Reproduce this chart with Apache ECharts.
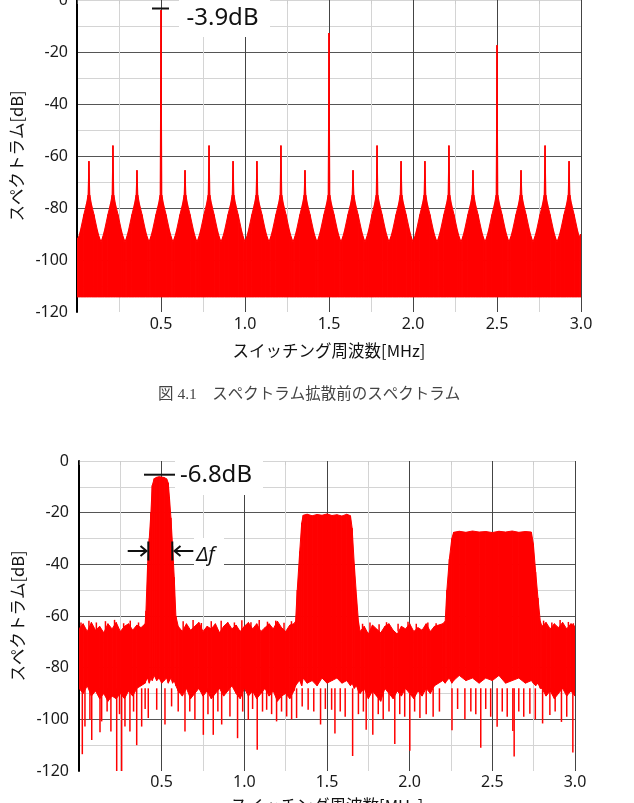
<!DOCTYPE html>
<html>
<head>
<meta charset="utf-8">
<script src="https://cdn.jsdelivr.net/npm/echarts@6.0.0/dist/echarts.min.js"></script>
<style>
html, body { margin: 0; padding: 0; background: #fff; }
#main { width: 634px; height: 803px; }
</style>
</head>
<body>
<div id="main"></div>
<script>
// ---- fig 4.1 : before spreading (line spectrum) ----
var peakFreq = [0.071, 0.214, 0.357, 0.5, 0.643, 0.786, 0.929, 1.071, 1.214, 1.357, 1.5,
                1.643, 1.786, 1.929, 2.071, 2.214, 2.357, 2.5, 2.643, 2.786, 2.929];
var peakDb = [-62, -56, -65.5, -3.9, -65.5, -56, -62, -62, -56, -65.5, -12.7,
              -65.5, -56, -62, -62, -56, -65.5, -17.4, -65.5, -56, -62];
// skirt of every line (MHz away from the line -> dB)
var cuspOffset = [0.06, 0.05, 0.03, 0.015, 0.005];
var cuspDb = [-91, -88.5, -82.5, -78.5, -75];
var valleyFreq = [0, 0.143, 0.286, 0.429, 0.571, 0.714, 0.857, 1.0, 1.143, 1.286, 1.429,
                  1.571, 1.714, 1.857, 2.0, 2.143, 2.286, 2.429, 2.571, 2.714, 2.857, 3.0];
var valleyDb = [-92, -93, -93, -93, -93, -93, -93, -93, -93, -93, -93,
                -93, -93, -93, -93, -93, -93, -93, -93, -93, -93, -90];
var topFloorDb = -114.2;

// ---- second chart : after spreading ----
var botFreq = [0, 0.025, 0.05, 0.075, 0.1, 0.125, 0.15, 0.175, 0.2, 0.225, 0.25, 0.275, 0.3, 0.325, 0.35, 0.375, 0.4,
    0.405, 0.415, 0.425, 0.435, 0.443, 0.455, 0.47, 0.485, 0.5, 0.515, 0.53, 0.54, 0.547, 0.556, 0.566, 0.576, 0.586,
    0.6, 0.625, 0.65, 0.675, 0.7, 0.725, 0.75, 0.775, 0.8, 0.825, 0.85, 0.875, 0.9, 0.925, 0.95, 0.975, 1.0,
    1.025, 1.05, 1.075, 1.1, 1.125, 1.15, 1.175, 1.2, 1.225, 1.25, 1.275, 1.3,
    1.31, 1.32, 1.335, 1.347, 1.356, 1.38, 1.41, 1.44, 1.47, 1.5, 1.53, 1.56, 1.59, 1.62, 1.642, 1.652, 1.665, 1.678, 1.69,
    1.7, 1.725, 1.75, 1.775, 1.8, 1.825, 1.85, 1.875, 1.9, 1.925, 1.95, 1.975, 2.0, 2.025, 2.05, 2.075, 2.1, 2.125, 2.15, 2.175, 2.2,
    2.215, 2.225, 2.24, 2.255, 2.266, 2.3, 2.34, 2.38, 2.42, 2.46, 2.5, 2.54, 2.58, 2.62, 2.66, 2.7, 2.736, 2.748, 2.762, 2.776, 2.79,
    2.8, 2.825, 2.85, 2.875, 2.9, 2.925, 2.95, 2.975, 3.0];
var botHigh = [-65, -63, -66, -62.5, -65.5, -64, -66.5, -63, -65, -62.5, -66, -64, -63, -65.5, -63.5, -64.5, -63,
    -58, -40, -30, -20, -9.5, -6.8, -6.3, -6.1, -6.2, -6.4, -6.9, -8.5, -14, -22, -33, -45, -60,
    -64, -66, -63, -65.5, -64, -62.5, -66, -64, -65, -63, -66.5, -64, -62.5, -65, -63.5, -66, -64,
    -62.5, -65, -63, -66, -64.5, -63, -65, -62, -64.5, -66, -63.5, -63,
    -62, -50, -35, -24, -21, -20.6, -21.2, -20.7, -21, -20.5, -21.1, -20.8, -21.3, -20.6, -21.2, -26, -40, -52, -62,
    -66, -64, -67, -63.5, -65, -66.5, -64, -63, -65.5, -67, -64, -65, -63, -66, -64.5, -65.5, -63, -66, -64, -63.5, -63,
    -62, -50, -38, -30, -27.6, -27.2, -27.6, -27.1, -27.5, -27.3, -27.7, -27.2, -27.5, -27.1, -27.6, -27.3, -27.5, -32, -43, -53, -62,
    -64, -62.5, -65, -63, -64.5, -62.5, -65, -63, -64];
var botLow = [-88, -90, -87, -91, -89, -92, -90, -93, -91, -92, -90, -92, -89, -91, -88, -87, -86,
    -85, -84, -86, -84, -85, -83, -85, -84, -86, -85, -84, -86, -85, -84, -86, -85, -87,
    -89, -91, -88, -92, -90, -88, -91, -89, -92, -90, -88, -91, -89, -87, -90, -92, -88,
    -91, -89, -92, -90, -88, -91, -89, -93, -91, -90, -92, -89,
    -87, -86, -85, -87, -84, -86, -85, -87, -84, -86, -85, -84, -86, -85, -87, -86, -88, -87, -89,
    -90, -88, -92, -89, -91, -93, -88, -90, -92, -89, -91, -88, -90, -92, -89, -91, -88, -90, -87, -86, -85,
    -86, -85, -84, -86, -85, -83, -85, -84, -86, -84, -85, -83, -86, -85, -84, -86, -85, -86, -87, -86, -88,
    -88, -91, -89, -92, -90, -88, -91, -89, -91];
// single deep samples hanging below the noise floor
var dipFreq = [0.02, 0.036, 0.066, 0.077, 0.127, 0.137, 0.17, 0.193, 0.228, 0.245, 0.258, 0.278, 0.308, 0.33, 0.349,
    0.379, 0.4, 0.419, 0.47, 0.52, 0.56, 0.6, 0.641, 0.67, 0.701, 0.752, 0.78, 0.812, 0.84, 0.863, 0.913,
    0.959, 0.99, 1.024, 1.05, 1.078, 1.11, 1.135, 1.165, 1.195, 1.225, 1.256, 1.286, 1.316, 1.35, 1.386,
    1.42, 1.461, 1.49, 1.528, 1.548, 1.58, 1.61, 1.655, 1.69, 1.72, 1.737, 1.777, 1.81, 1.84, 1.875, 1.91,
    1.94, 1.97, 2.001, 2.03, 2.062, 2.1, 2.142, 2.18, 2.256, 2.29, 2.334, 2.37, 2.4, 2.43, 2.46, 2.49,
    2.529, 2.56, 2.59, 2.624, 2.632, 2.66, 2.69, 2.727, 2.76, 2.804, 2.848, 2.88, 2.918, 2.95, 2.987];
var dipDb = [-113.5, -102.8, -100, -108, -105, -100.8, -97, -104.7, -120, -98, -120, -102.8, -104.7, -97, -110,
    -102.8, -96, -99.5, -96.3, -102, -95, -97, -104.7, -97, -100.2, -106, -98, -106, -97, -102, -98.9,
    -107.3, -97, -100.2, -96, -111.8, -97, -96.3, -98, -100.8, -97, -98.9, -100, -99.5, -95, -96.3,
    -97, -102, -96, -96.3, -105.5, -97, -99, -114.2, -98, -97, -104, -106, -98, -100, -97, -109.5,
    -98, -99, -112.2, -97, -99.5, -98, -99, -97, -104.2, -96, -100, -97, -98, -111, -96, -99,
    -102.9, -97, -99, -104.5, -114.4, -97, -99, -97.8, -100, -101.6, -98.3, -97, -101, -99, -112.8];
var dipBaseDb = -88;
// single high samples sticking out of the noise top
var upFreq = [0.012, 0.06, 0.105, 0.16, 0.215, 0.27, 0.31, 0.36, 0.63, 0.69, 0.74, 0.8, 0.86, 0.94, 0.985,
    1.04, 1.09, 1.14, 1.19, 1.24, 1.285, 1.715, 1.76, 1.815, 1.86, 1.93, 1.99, 2.04, 2.11, 2.16,
    2.81, 2.86, 2.91, 2.96, 2.99];
var upDb = [-62.5, -61.8, -62.5, -62, -61.5, -62.8, -61.8, -62.5, -62, -61.5, -62.7, -62, -61.8, -62.5, -61.6,
    -62.4, -61.5, -62.2, -61.8, -62.6, -62, -63, -62.5, -63.2, -62.4, -63, -62.2, -63, -62.5, -62.8,
    -61.8, -62.5, -61.5, -62.3, -62.8];
var upBaseDb = -66;

var RED = '#ff0000';

// build [freq, low, high] rows for the band series
var topBand = [[valleyFreq[0], topFloorDb, valleyDb[0]]];
peakFreq.forEach(function (f, k) {
    var j;
    for (j = 0; j < cuspOffset.length; j++) topBand.push([f - cuspOffset[j], topFloorDb, cuspDb[j]]);
    topBand.push([f, topFloorDb, peakDb[k]]);
    for (j = cuspOffset.length - 1; j >= 0; j--) topBand.push([f + cuspOffset[j], topFloorDb, cuspDb[j]]);
    topBand.push([valleyFreq[k + 1], topFloorDb, valleyDb[k + 1]]);
});
var botBand = botFreq.map(function (f, i) { return [f, botLow[i], botHigh[i]]; });
var dips = dipFreq.map(function (f, i) { return [f, dipDb[i]]; });
var ups = upFreq.map(function (f, i) { return [f, upDb[i]]; });

function bandItem(params, api) {
    var i = params.dataIndexInside;
    if (i >= params.dataInsideLength - 1) return;
    var a = api.coord([api.value(0), api.value(2)]);
    var b = api.coord([api.value(0, i + 1), api.value(2, i + 1)]);
    var c = api.coord([api.value(0, i + 1), api.value(1, i + 1)]);
    var d = api.coord([api.value(0), api.value(1)]);
    return {
        type: 'polygon',
        shape: { points: [a, b, c, d] },
        style: { fill: RED, stroke: RED, lineWidth: 1 }
    };
}

function spikeItem(baseDb) {
    return function (params, api) {
        var p0 = api.coord([api.value(0), baseDb]);
        var p1 = api.coord([api.value(0), api.value(1)]);
        return {
            type: 'rect',
            shape: { x: p0[0] - 0.75, y: Math.min(p0[1], p1[1]), width: 1.5, height: Math.abs(p1[1] - p0[1]) },
            style: { fill: RED }
        };
    };
}

var labelFont = 'Noto Sans';
var jpFont = '"Noto Sans CJK JP", "Noto Sans"';

function makeX(idx, labelMargin, nameGap) {
    return {
        type: 'value', gridIndex: idx, min: 0, max: 3, interval: 0.5,
        name: 'スイッチング周波数[MHz]', nameLocation: 'middle', nameGap: nameGap,
        nameTextStyle: { fontFamily: jpFont, fontSize: 16.5, color: '#111' },
        axisLine: { show: false },
        axisTick: { show: true, length: 4, lineStyle: { color: '#444' } },
        minorTick: { show: true, splitNumber: 2, length: 4, lineStyle: { color: '#ccc' } },
        axisLabel: {
            margin: labelMargin, fontFamily: labelFont, fontSize: 16, color: '#1a1a1a',
            formatter: function (v) { return v === 0 ? '' : v.toFixed(1); }
        },
        splitLine: { show: true, lineStyle: { color: '#444', width: 1 } },
        minorSplitLine: { show: true, lineStyle: { color: '#d4d4d4', width: 1 } }
    };
}

function makeY(idx, labelMargin) {
    return {
        type: 'value', gridIndex: idx, min: -120, max: 0, interval: 20,
        name: 'スペクトラム[dB]', nameLocation: 'middle', nameGap: 50,
        nameTextStyle: { fontFamily: jpFont, fontSize: 16.5, color: '#111' },
        axisLine: { show: true, onZero: false, lineStyle: { color: '#000', width: 2 } },
        axisTick: { show: false },
        minorTick: { show: false, splitNumber: 2 },
        axisLabel: { margin: labelMargin, fontFamily: labelFont, fontSize: 16, color: '#1a1a1a' },
        splitLine: { show: true, lineStyle: { color: ['rgba(0,0,0,0)', '#555', '#555', '#555', '#555', '#555', '#d4d4d4'], width: 1 } },
        minorSplitLine: { show: true, lineStyle: { color: '#d4d4d4', width: 1 } }
    };
}

var g = [];
function box(x, y, w, h) {
    g.push({ type: 'rect', z: 100, shape: { x: x, y: y, width: w, height: h }, style: { fill: '#fff' } });
}
function seg(x1, y1, x2, y2, w) {
    g.push({ type: 'line', z: 101, shape: { x1: x1, y1: y1, x2: x2, y2: y2 }, style: { stroke: '#111', lineWidth: w || 2 } });
}
function txt(s, x, y, font, color) {
    g.push({ type: 'text', z: 102, x: x, y: y,
        style: { text: s, font: font, fill: color || '#111', align: 'left', verticalAlign: 'middle',
                 textAlign: 'left', textVerticalAlign: 'middle' } });
}

// level marks and labels
box(179, -2, 91, 39);
txt('-3.9dB', 186.5, 18, '24px "Noto Sans"');
seg(152, 8.5, 169, 8.5);

box(175, 458, 88, 37);
txt('-6.8dB', 180, 475, '24px "Noto Sans"');
seg(144, 474.7, 175, 474.7);

// Δf width arrows
box(194, 538, 30, 31);
seg(127.7, 551, 146, 551);
g.push({ type: 'polyline', z: 101, shape: { points: [[140.5, 546], [146.5, 551], [140.5, 556]] }, style: { stroke: '#111', lineWidth: 2, fill: null } });
seg(148.3, 541.5, 148.3, 560.5);
seg(172.3, 541.5, 172.3, 560.5);
seg(193.3, 551, 175, 551);
g.push({ type: 'polyline', z: 101, shape: { points: [[180.5, 546], [174.5, 551], [180.5, 556]] }, style: { stroke: '#111', lineWidth: 2, fill: null } });
txt('Δf', 196.5, 555, 'italic 20px "Noto Sans"');

// caption of fig 4.1
txt('図 4.1　スペクトラム拡散前のスペクトラム', 158, 395, '15.5px "Liberation Serif", "Noto Sans CJK JP"', '#444');

var myChart = echarts.init(document.getElementById('main'), null, { renderer: 'canvas' });
var option = {
    animation: false,
    backgroundColor: '#fff',
    grid: [
        { left: 77, top: 0, width: 504, height: 312, outerBoundsMode: 'none' },
        { left: 79, top: 461, width: 496, height: 310, outerBoundsMode: 'none' }
    ],
    xAxis: [makeX(0, 4, 30), makeX(1, 3, 26)],
    yAxis: [makeY(0, 9), makeY(1, 10)],
    series: [
        {
            name: 'before', type: 'custom', xAxisIndex: 0, yAxisIndex: 0, clip: true,
            renderItem: bandItem, encode: { x: 0, y: [1, 2] }, data: topBand
        },
        {
            name: 'after', type: 'custom', xAxisIndex: 1, yAxisIndex: 1, clip: true,
            renderItem: bandItem, encode: { x: 0, y: [1, 2] }, data: botBand
        },
        {
            name: 'after dips', type: 'custom', xAxisIndex: 1, yAxisIndex: 1, clip: true,
            renderItem: spikeItem(dipBaseDb), encode: { x: 0, y: 1 }, data: dips
        },
        {
            name: 'after tips', type: 'custom', xAxisIndex: 1, yAxisIndex: 1, clip: true,
            renderItem: spikeItem(upBaseDb), encode: { x: 0, y: 1 }, data: ups
        }
    ],
    graphic: g
};
myChart.setOption(option);
</script>
</body>
</html>
